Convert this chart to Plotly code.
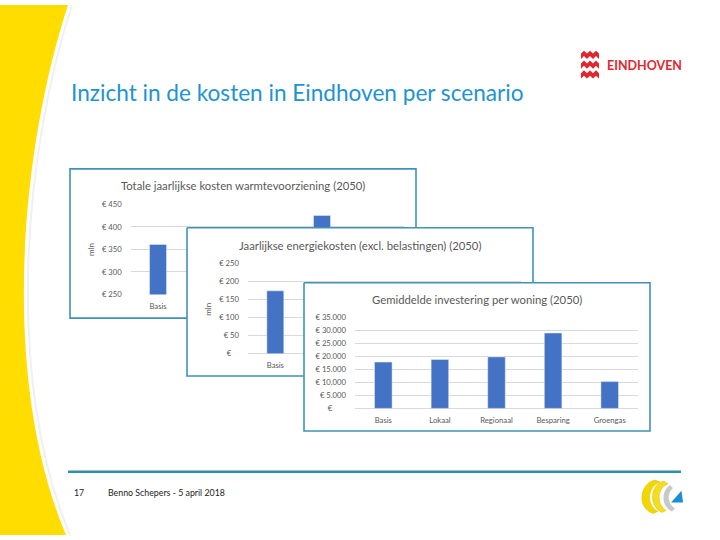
import plotly.graph_objects as go

W, H = 720, 540

# ---------------- data ----------------
categories = ["Basis", "Lokaal", "Regionaal", "Besparing", "Groengas"]
# Only the bars that are visible in the slide (the rest is hidden behind the next panel)
totale_kosten = [361, None, None, 425, None]          # mln euro
energiekosten = [174, None, None, None, None]         # mln euro
investering = [17800, 18800, 19800, 29000, 10300]     # euro per woning

# category labels that are visible (the others are covered by the next panel)
labels1 = ["Basis", "", "", "", ""]
labels2 = ["Basis", "", "", "", ""]
labels3 = ["Basis", "Lokaal", "Regionaal", "Besparing", "Groengas"]

ticks1 = [250, 300, 350, 400, 450]
ticklabels1 = ["€ 250", "€ 300", "€ 350", "€ 400", "€ 450"]
ticks2 = [0, 50, 100, 150, 200, 250]
ticklabels2 = ["€\u00a0\u00a0\u00a0\u00a0", "€ 50", "€ 100", "€ 150", "€ 200", "€ 250"]
ticks3 = [0, 5000, 10000, 15000, 20000, 25000, 30000, 35000]
ticklabels3 = ["€\u00a0\u00a0\u00a0\u00a0\u00a0\u00a0\u00a0", "€ 5.000", "€ 10.000", "€ 15.000",
               "€ 20.000", "€ 25.000", "€ 30.000", "€ 35.000"]

chart_titles = ["Totale jaarlijkse kosten warmtevoorziening (2050)",
                "Jaarlijkse energiekosten (excl. belastingen) (2050)",
                "Gemiddelde investering per woning (2050)"]
slide_title = "Inzicht in de kosten in Eindhoven per scenario"
footer_page = "17"
footer_text = "Benno Schepers - 5 april 2018"

# ---------------- style ----------------
BAR = "#4472C4"
GRID = "#d9d9d9"
TXT = "#595959"
BOX = "#3f93b7"
FONT = "Lato"


def px(x):
    return x / W


def py(y):
    return 1 - y / H


def xd(a, b):
    return [a / W, b / W]


def yd(top, bottom):
    return [1 - bottom / H, 1 - top / H]


def P(pts):
    s = ""
    for i, (x, y) in enumerate(pts):
        s += ("M" if i == 0 else "L") + f"{px(x):.5f},{py(y):.5f} "
    return s + "Z"


fig = go.Figure()

# chart 1
fig.add_trace(go.Bar(x=categories, y=totale_kosten, marker_color=BAR,
                     xaxis="x", yaxis="y", showlegend=False, hoverinfo="skip"))
# box 2 (white card covering chart 1)
b2 = (187, 227, 533, 378)
fig.add_trace(go.Scatter(x=[b2[0], b2[2], b2[2], b2[0], b2[0]],
                         y=[b2[1], b2[1], b2[3], b2[3], b2[1]],
                         mode="lines", fill="toself", fillcolor="white",
                         line=dict(color=BOX, width=1.6),
                         xaxis="x2", yaxis="y2", showlegend=False, hoverinfo="skip"))
# chart 2
fig.add_trace(go.Bar(x=categories, y=energiekosten, marker_color=BAR,
                     xaxis="x3", yaxis="y3", showlegend=False, hoverinfo="skip"))
# box 3
b3 = (304, 283, 650, 434)
fig.add_trace(go.Scatter(x=[b3[0], b3[2], b3[2], b3[0], b3[0]],
                         y=[b3[1], b3[1], b3[3], b3[3], b3[1]],
                         mode="lines", fill="toself", fillcolor="white",
                         line=dict(color=BOX, width=1.6),
                         xaxis="x4", yaxis="y4", showlegend=False, hoverinfo="skip"))
# chart 3
fig.add_trace(go.Bar(x=categories, y=investering, marker_color=BAR,
                     xaxis="x5", yaxis="y5", showlegend=False, hoverinfo="skip"))

tickfont = dict(family=FONT, size=7.7, color=TXT)


def cat_axis(dom, anchor, labels):
    return dict(domain=dom, anchor=anchor, type="category", showgrid=False,
                zeroline=False, showline=False, ticks="", tickfont=tickfont,
                tickvals=categories, ticktext=labels,
                ticklabelstandoff=6, fixedrange=True)


def val_axis(dom, anchor, rng, tv, tt):
    return dict(domain=dom, anchor=anchor, range=rng, tickvals=tv, ticktext=tt,
                showgrid=True, gridcolor=GRID, gridwidth=1, zeroline=True,
                zerolinecolor=GRID, zerolinewidth=1, showline=False, ticks="",
                tickfont=tickfont, ticklabelstandoff=8, fixedrange=True)


def overlay_axis(rng, anchor):
    return dict(domain=[0, 1], range=rng, visible=False, fixedrange=True, anchor=anchor)


fig.update_layout(
    width=W, height=H, margin=dict(l=0, r=0, t=0, b=0),
    paper_bgcolor="white", plot_bgcolor="rgba(0,0,0,0)",
    bargap=0.69, showlegend=False,
    xaxis=cat_axis(xd(130.7, 404), "y", labels1),
    yaxis=val_axis(yd(203, 295), "x", [250, 450], ticks1, ticklabels1),
    xaxis2=overlay_axis([0, W], "y2"), yaxis2=overlay_axis([H, 0], "x2"),
    xaxis3=cat_axis(xd(248, 521.3), "y3", labels2),
    yaxis3=val_axis(yd(263.3, 355.3), "x3", [0, 250], ticks2, ticklabels2),
    xaxis4=overlay_axis([0, W], "y4"), yaxis4=overlay_axis([H, 0], "x4"),
    xaxis5=cat_axis(xd(355, 638), "y5", labels3),
    yaxis5=val_axis(yd(318.3, 411), "x5", [0, 35000], ticks3, ticklabels3),
)

shapes = []
# yellow swoosh on the left
shapes.append(dict(type="path", xref="paper", yref="paper", layer="below",
                   path=f"M0,1 L{px(68):.5f},1 C{px(20):.5f},{py(150):.5f} {px(0):.5f},{py(380):.5f} {px(66):.5f},{py(540):.5f} L0,0 Z",
                   fillcolor="#FFDD00", line=dict(width=0)))
shapes.append(dict(type="path", xref="paper", yref="paper", layer="below",
                   path=f"M{px(72):.5f},1 C{px(24):.5f},{py(150):.5f} {px(4):.5f},{py(380):.5f} {px(70):.5f},{py(540):.5f}",
                   line=dict(color="#f0f0f0", width=2)))
# box 1
shapes.append(dict(type="rect", xref="paper", yref="paper", layer="below",
                   x0=px(70), x1=px(416), y0=py(319), y1=py(167),
                   fillcolor="white", line=dict(color=BOX, width=1.6)))
# footer line
shapes.append(dict(type="line", xref="paper", yref="paper", layer="above",
                   x0=px(68), x1=px(681), y0=py(475.5), y1=py(475.5),
                   line=dict(color="#2f8fa8", width=2.5)))
# Eindhoven logo waves
RED = "#e2262d"
for y0 in (46.5, 56.5, 66.5):
    pts_top = [(581, y0 + 3), (584, y0), (587, y0 + 3), (590, y0), (593, y0 + 3), (596, y0), (599, y0 + 3)]
    pts_bot = [(x, y + 5.5) for (x, y) in reversed(pts_top)]
    shapes.append(dict(type="path", xref="paper", yref="paper", layer="above",
                       path=P(pts_top + pts_bot), fillcolor=RED, line=dict(width=0)))


# bottom-right logo
def curve(pts):
    (x0, y0), rest = pts[0], pts[1:]
    s = f"M{px(x0):.5f},{py(y0):.5f} "
    i = 0
    while i < len(rest):
        seg = rest[i]
        if seg == "C":
            a, b, c = rest[i + 1], rest[i + 2], rest[i + 3]
            s += f"C{px(a[0]):.5f},{py(a[1]):.5f} {px(b[0]):.5f},{py(b[1]):.5f} {px(c[0]):.5f},{py(c[1]):.5f} "
            i += 4
        else:
            s += f"L{px(seg[0]):.5f},{py(seg[1]):.5f} "
            i += 1
    return s + "Z"


shapes.append(dict(type="path", xref="paper", yref="paper", layer="above",
                   path=curve([(655, 484), "C", (640, 487), (636, 512), (653, 518), (658, 516),
                               "C", (646, 510), (647, 491), (660, 486)]),
                   fillcolor="#f2d600", line=dict(color="#d9bf00", width=0.5)))
shapes.append(dict(type="path", xref="paper", yref="paper", layer="above",
                   path=curve([(664, 485), "C", (650, 488), (648, 511), (662, 517), (666, 515),
                               "C", (656, 508), (657, 492), (668, 488)]),
                   fillcolor="#f5dc1e", line=dict(color="#d9bf00", width=0.5)))
shapes.append(dict(type="path", xref="paper", yref="paper", layer="above",
                   path=curve([(670, 489), "C", (661, 495), (661, 511), (672, 516), (675, 513),
                               "C", (667, 508), (667, 497), (673, 492)]),
                   fillcolor="#c9c9c9", line=dict(width=0)))
shapes.append(dict(type="path", xref="paper", yref="paper", layer="above",
                   path=P([(671, 507), (683, 507), (681.5, 495)]),
                   fillcolor="#1b8fd2", line=dict(width=0)))
fig.update_layout(shapes=shapes)

ann = []
# slide title
ann.append(dict(text=slide_title, x=px(69), y=py(89), xref="paper", yref="paper",
                xanchor="left", yanchor="middle", showarrow=False,
                font=dict(family=FONT, size=22.6, color="#1d93d2")))
# chart titles
for t, cx, cy in zip(chart_titles, (243, 360, 477), (184.3, 245.3, 300.3)):
    ann.append(dict(text=t, x=px(cx), y=py(cy), xref="paper", yref="paper",
                    xanchor="center", yanchor="middle", showarrow=False,
                    font=dict(family=FONT, size=11.3, color=TXT)))
# axis titles "mln"
for cx, cy in ((91.5, 249), (208.5, 310)):
    ann.append(dict(text="mln", x=px(cx), y=py(cy), xref="paper", yref="paper",
                    xanchor="center", yanchor="middle", showarrow=False, textangle=-90,
                    font=dict(family=FONT, size=8, color=TXT)))
# footer
ann.append(dict(text=footer_page, x=px(72), y=py(497), xref="paper", yref="paper",
                xanchor="left", yanchor="middle", showarrow=False,
                font=dict(family=FONT, size=8.8, color="#222222")))
ann.append(dict(text=footer_text, x=px(106), y=py(497), xref="paper", yref="paper",
                xanchor="left", yanchor="middle", showarrow=False,
                font=dict(family=FONT, size=8.8, color="#222222")))
# Eindhoven wordmark
ann.append(dict(text="<b>EINDHOVEN</b>", x=px(605), y=py(61.5), xref="paper", yref="paper",
                xanchor="left", yanchor="middle", showarrow=False,
                font=dict(family=FONT, size=12.5, color=RED)))
fig.update_layout(annotations=ann)

fig.write_html("out.html", config={"displayModeBar": False},
               post_script="document.body.style.margin='0px';")
